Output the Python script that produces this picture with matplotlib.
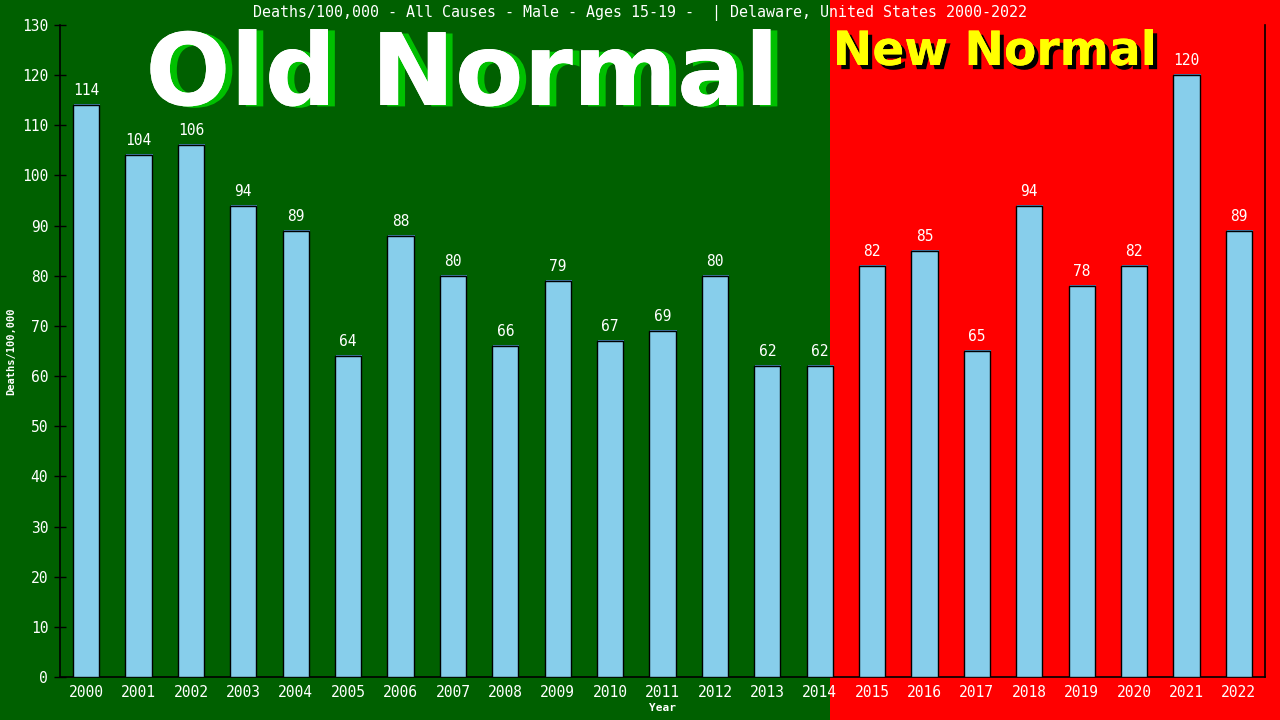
import matplotlib
matplotlib.use("Agg")
import matplotlib.pyplot as plt
import matplotlib.patheffects as pe
from matplotlib.transforms import offset_copy

years = [str(y) for y in range(2000, 2023)]
values = [114, 104, 106, 94, 89, 64, 88, 80, 66, 79, 67, 69, 80, 62, 62,
          82, 85, 65, 94, 78, 82, 120, 89]
split_x = 14.2
title = "Deaths/100,000 - All Causes - Male - Ages 15-19 -  | Delaware, United States 2000-2022"

GREEN = "#006000"
RED = "#ff0000"
BAR = "#87ceeb"
MONO = "DejaVu Sans Mono"

fig = plt.figure(figsize=(12.8, 7.2), dpi=100)
fig.patch.set_facecolor(GREEN)
ax = fig.add_axes([60/1280, 43/720, 1205/1280, 652/720])
ax.set_facecolor("none")
ax.set_xlim(-0.5, 22.5)
ax.set_ylim(0, 130)

xdisp = ax.transData.transform((split_x, 0))[0]
xfig = xdisp / fig.bbox.width
fig.patches.append(plt.Rectangle((xfig, 0), 1 - xfig, 1, transform=fig.transFigure,
                                 facecolor=RED, edgecolor="none", zorder=-10))

x = list(range(len(years)))
shadow = offset_copy(ax.transData, fig=fig, x=1, y=1, units="dots")
ax.bar(x, values, width=0.5, color="#4682b4", edgecolor="none", transform=shadow, zorder=2)
ax.bar(x, values, width=0.5, color=BAR, edgecolor="black", linewidth=1, zorder=3)
for xi, v in zip(x, values):
    ax.annotate(str(v), (xi, v), xytext=(0, 5), textcoords="offset points",
                ha="center", va="bottom", color="white", fontsize=10.5,
                family=MONO, zorder=4)

ax.set_xticks(x)
ax.set_xticklabels(years)
ax.set_yticks(range(0, 131, 10))
ax.tick_params(axis="x", length=0, pad=6, labelcolor="white", labelsize=10.5)
ax.tick_params(axis="y", direction="inout", length=9, width=1, color="black",
               labelcolor="white", labelsize=10.5, pad=4)
for lab in ax.get_xticklabels() + ax.get_yticklabels():
    lab.set_family(MONO)
for s in ["left", "bottom", "right"]:
    ax.spines[s].set_color("black")
    ax.spines[s].set_linewidth(1.2)
ax.spines["top"].set_visible(False)

ax.set_xlabel("Year", color="white", fontsize=8, family=MONO, fontweight="bold", labelpad=2)
ax.set_ylabel("Deaths/100,000", color="white", fontsize=7.5, family=MONO,
              fontweight="bold", labelpad=4)

fig.text(0.5, 1 - 13/720, title, ha="center", va="center", color="white",
         fontsize=10.8, family=MONO)

fig.text(462/1280, 1 - 105/720, "Old Normal", ha="center", va="baseline",
         color="white", fontsize=72, fontweight="bold", family="DejaVu Sans",
         path_effects=[pe.withSimplePatchShadow(offset=(5, -1), shadow_rgbFace="#00c000", alpha=1),
                       pe.Normal()], zorder=1)
fig.text(995/1280, 1 - 65/720, "New Normal", ha="center", va="baseline",
         color="#ffff00", fontsize=34, fontweight="bold", family="DejaVu Sans",
         path_effects=[pe.withSimplePatchShadow(offset=(3, -3), shadow_rgbFace="black", alpha=1),
                       pe.Normal()], zorder=1)

fig.savefig("out.png", dpi=100, facecolor=fig.get_facecolor())
